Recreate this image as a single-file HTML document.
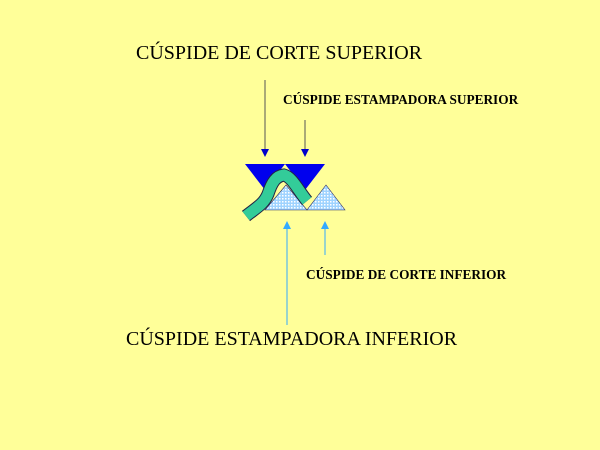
<!DOCTYPE html>
<html><head><style>
body{margin:0;width:600px;height:450px;background:#ffff99;position:relative;overflow:hidden;font-family:"Liberation Serif",serif}
.t{position:absolute;white-space:nowrap;color:#000}
</style></head><body>
<div class="t" style="left:136px;top:42px;font-size:20px">CÚSPIDE DE CORTE SUPERIOR</div>
<div class="t" style="left:283px;top:92px;font-size:13.3px;font-weight:bold">CÚSPIDE ESTAMPADORA SUPERIOR</div>
<div class="t" style="left:306px;top:267px;font-size:13.3px;font-weight:bold">CÚSPIDE DE CORTE INFERIOR</div>
<div class="t" style="left:126px;top:328px;font-size:20px">CÚSPIDE ESTAMPADORA INFERIOR</div>
<svg width="600" height="450" style="position:absolute;left:0;top:0">
<defs>
<pattern id="p" width="3" height="3" patternUnits="userSpaceOnUse">
<rect width="3" height="3" fill="#9fd3ff"/><rect width="1.5" height="1.5" fill="#fff"/>
</pattern>
</defs>
<line x1="265" y1="80" x2="265" y2="150" stroke="#555" stroke-width="1"/>
<polygon points="261,149 269,149 265,157" fill="#0000cc"/>
<line x1="305" y1="120" x2="305" y2="150" stroke="#555" stroke-width="1"/>
<polygon points="301,149 309,149 305,157" fill="#0000cc"/>
<polygon points="245,164 285,164 265,190" fill="#0000ee"/>
<polygon points="285,164 325,164 305,190" fill="#0000ee"/>
<polygon points="265,210 307,210 286,185" fill="url(#p)" stroke="#336" stroke-width="0.6"/>
<polygon points="307,210 345,210 326,185" fill="url(#p)" stroke="#336" stroke-width="0.6"/>
<path d="M246,216 C256,208 264,204 268,194 C272,182 276,176 284,175 C292,177 298,190 307,201" fill="none" stroke="#224" stroke-width="13"/>
<path d="M246,216 C256,208 264,204 268,194 C272,182 276,176 284,175 C292,177 298,190 307,201" fill="none" stroke="#33cc99" stroke-width="11"/>
<line x1="287" y1="228" x2="287" y2="325" stroke="#33aaff" stroke-width="1"/>
<polygon points="283,229 291,229 287,221" fill="#33aaff"/>
<line x1="325" y1="228" x2="325" y2="255" stroke="#33aaff" stroke-width="1"/>
<polygon points="321,229 329,229 325,221" fill="#33aaff"/>
</svg>
</body></html>
